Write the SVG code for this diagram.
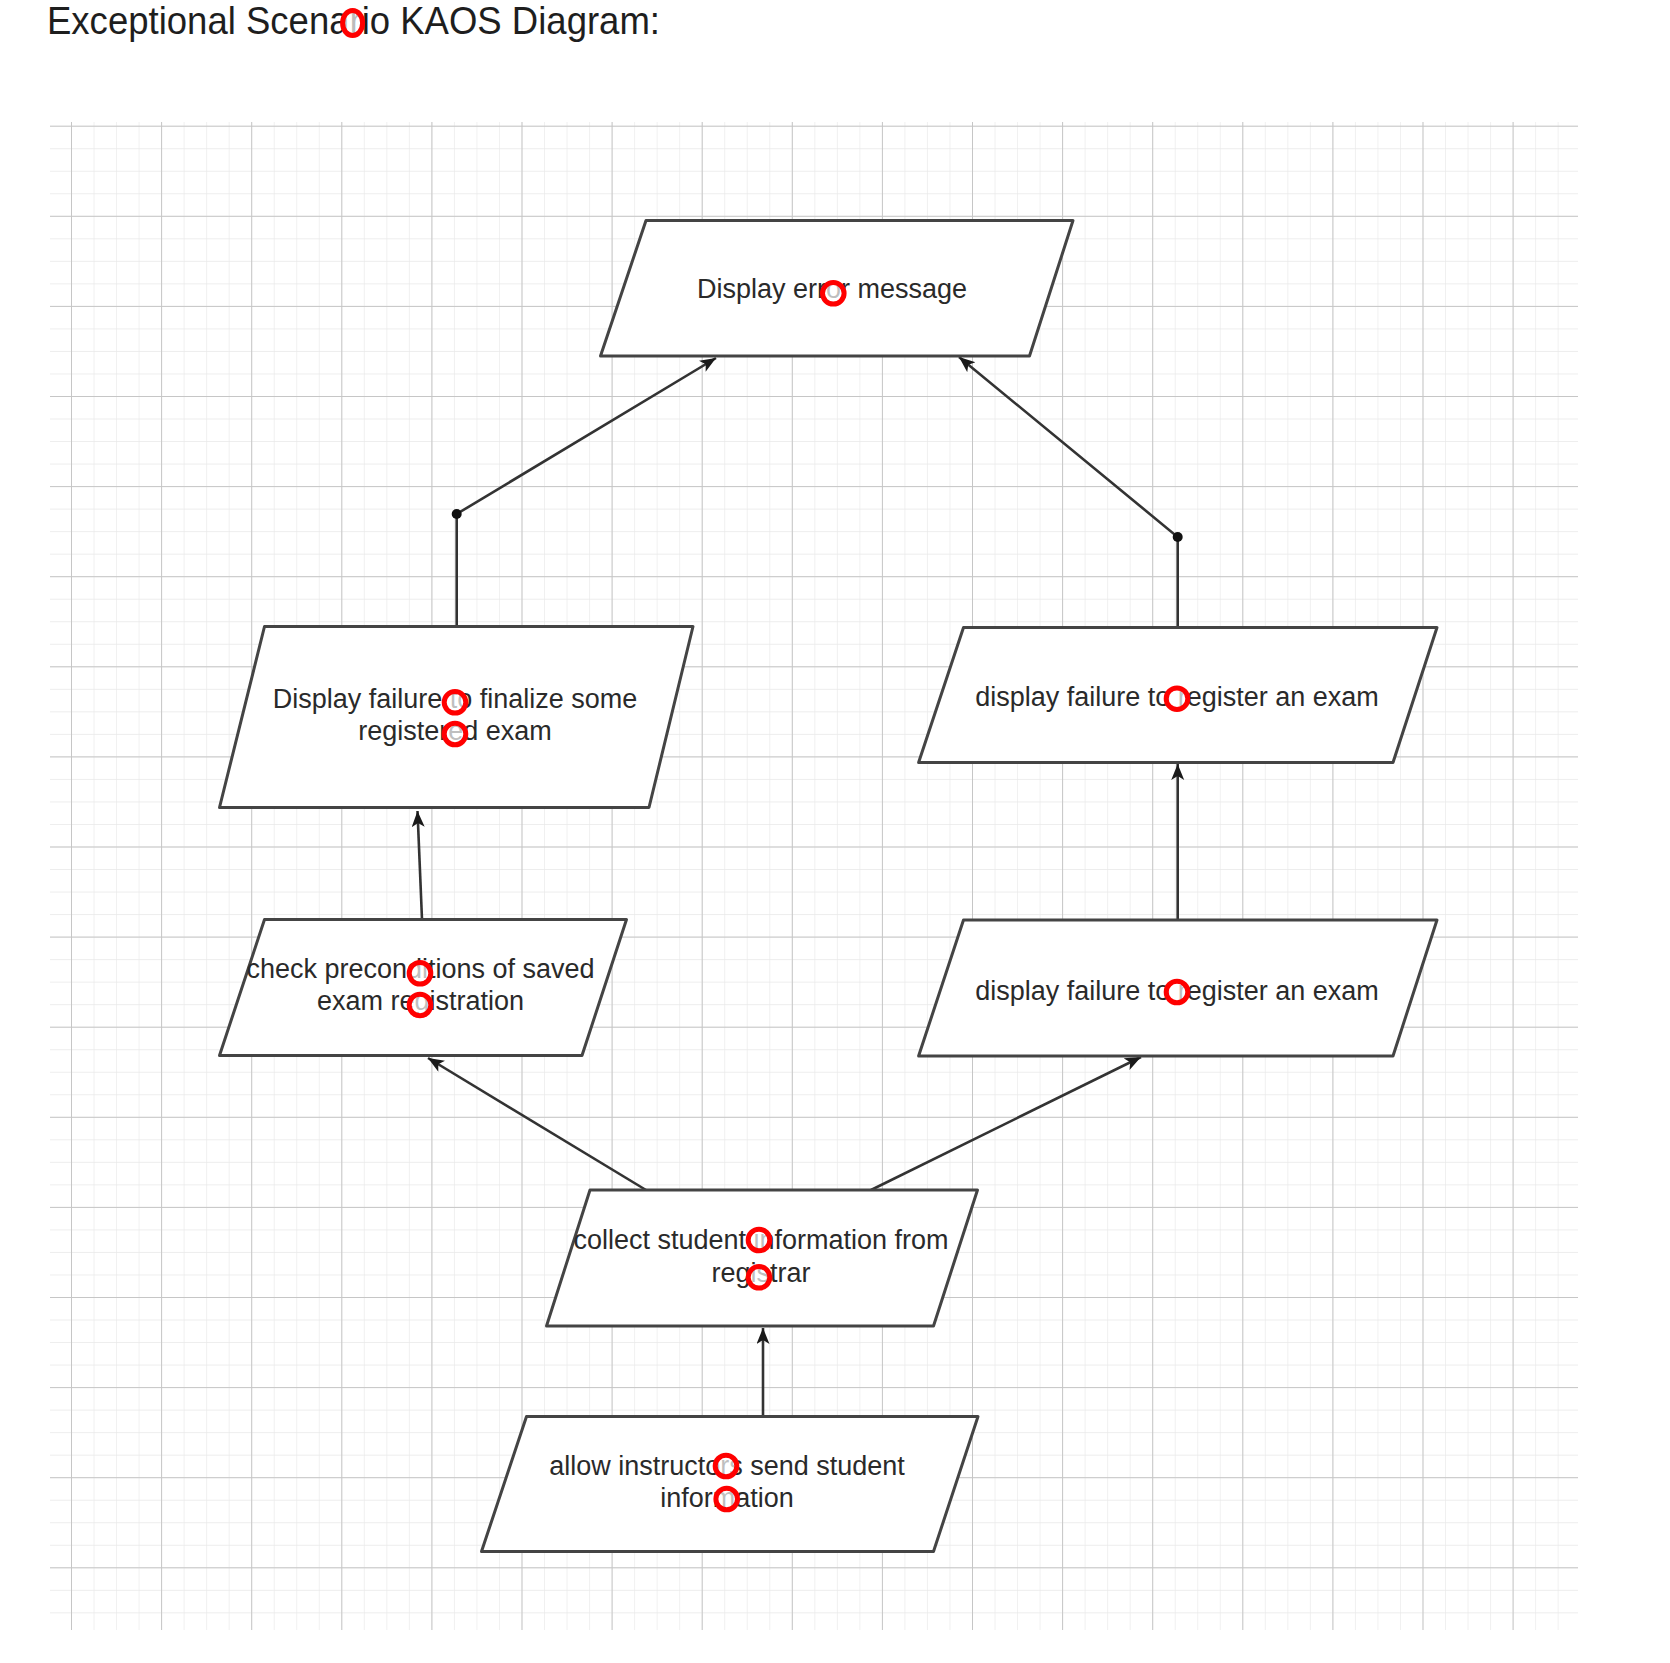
<svg xmlns="http://www.w3.org/2000/svg" width="1670" height="1663" viewBox="0 0 1670 1663">
  <defs>
    <pattern id="minor" patternUnits="userSpaceOnUse" x="71" y="125.7" width="22.525" height="22.525">
      <path d="M0,0 H22.525 M0,0 V22.525" fill="none" stroke="#e8e8e8" stroke-width="1.3"/>
    </pattern>
    <pattern id="major" patternUnits="userSpaceOnUse" x="71" y="125.7" width="90.1" height="90.1">
      <path d="M0,0 H90.1 M0,0 V90.1" fill="none" stroke="#c6c6c6" stroke-width="2"/>
    </pattern>
    <marker id="arrow" markerUnits="userSpaceOnUse" markerWidth="18" markerHeight="14" refX="16" refY="6.5" orient="auto">
      <path d="M0,0 L16,6.5 L0,13 L4,6.5 Z" fill="#1a1a1a"/>
    </marker>
    <style>
      .node { fill: #ffffff; stroke: #444444; stroke-width: 3; stroke-linejoin: round; }
      .label { font-family: "Liberation Sans", Arial, Helvetica, sans-serif; font-size: 27px; fill: #2a2a2a; text-anchor: middle; }
      .edge { fill: none; stroke: #333333; stroke-width: 2.6; }
      .dot { fill: #111111; }
      .mark { fill: #ffffff; fill-opacity: 0.7; stroke: #ff0000; stroke-width: 5; }
    </style>
  </defs>

  <rect x="0" y="0" width="1670" height="1663" fill="#ffffff"/>

  <text x="47" y="34" font-family="'Liberation Sans', Arial, Helvetica, sans-serif" font-size="39" fill="#1e1e1e" textLength="613" lengthAdjust="spacingAndGlyphs">Exceptional Scenario KAOS Diagram:</text>

  <g id="grid">
    <rect x="50" y="122" width="1528" height="1508" fill="url(#minor)"/>
    <rect x="50" y="122" width="1528" height="1508" fill="url(#major)"/>
  </g>

  <g id="connectors">
    <path class="edge" d="M456.7,626.5 V514 L716,358" marker-end="url(#arrow)"/>
    <circle class="dot" cx="456.7" cy="514" r="5"/>
    <path class="edge" d="M1177.7,627.5 V537 L959,357" marker-end="url(#arrow)"/>
    <circle class="dot" cx="1177.7" cy="537" r="5"/>
    <path class="edge" d="M1177.7,920 L1177.7,764" marker-end="url(#arrow)"/>
    <path class="edge" d="M422,919.5 L417.5,811" marker-end="url(#arrow)"/>
    <path class="edge" d="M646,1190 L428,1058" marker-end="url(#arrow)"/>
    <path class="edge" d="M871,1190 L1141,1057" marker-end="url(#arrow)"/>
    <path class="edge" d="M763,1416.5 L763,1328" marker-end="url(#arrow)"/>
  </g>

  <g id="node-display-error">
    <polygon class="node" points="646,220.5 1073,220.5 1029.5,356 600.5,356"/>
    <text class="label" x="832" y="298">Display error message</text>
  </g>
  <g id="node-failure-finalize">
    <polygon class="node" points="264.5,626.5 693,626.5 649,807.5 219.5,807.5"/>
    <text class="label" x="455" y="708">Display failure to finalize some</text>
    <text class="label" x="455" y="740">registered exam</text>
  </g>
  <g id="node-failure-register-1">
    <polygon class="node" points="963.5,627.5 1437,627.5 1393,762.5 918.6,762.5"/>
    <text class="label" x="1177" y="706">display failure to register an exam</text>
  </g>
  <g id="node-failure-register-2">
    <polygon class="node" points="963.5,920 1437,920 1393,1056 918.6,1056"/>
    <text class="label" x="1177" y="1000">display failure to register an exam</text>
  </g>
  <g id="node-check-preconditions">
    <polygon class="node" points="264.5,919.5 626.5,919.5 582,1055.5 219.5,1055.5"/>
    <text class="label" x="420.5" y="978">check preconditions of saved</text>
    <text class="label" x="420.5" y="1010">exam registration</text>
  </g>
  <g id="node-collect-info">
    <polygon class="node" points="590,1190 977.5,1190 933.5,1326 546.5,1326"/>
    <text class="label" x="761" y="1249">collect student information from</text>
    <text class="label" x="761" y="1281.5">registrar</text>
  </g>
  <g id="node-allow-instructors">
    <polygon class="node" points="526.5,1416.5 978,1416.5 933.5,1551.5 481.5,1551.5"/>
    <text class="label" x="727" y="1475">allow instructors send student</text>
    <text class="label" x="727" y="1507">information</text>
  </g>

  <g id="markers">
    <ellipse class="mark" cx="352.6" cy="23" rx="10" ry="12.5"/>
    <circle class="mark" cx="833.3" cy="293.3" r="10.8"/>
    <circle class="mark" cx="455" cy="702.3" r="10.8"/>
    <circle class="mark" cx="455" cy="734" r="10.8"/>
    <circle class="mark" cx="1177" cy="698.7" r="10.8"/>
    <circle class="mark" cx="1177" cy="992" r="10.8"/>
    <circle class="mark" cx="420" cy="973.3" r="10.8"/>
    <circle class="mark" cx="420" cy="1005" r="10.8"/>
    <circle class="mark" cx="759" cy="1240" r="10.8"/>
    <circle class="mark" cx="759" cy="1277.3" r="10.8"/>
    <circle class="mark" cx="726" cy="1466" r="10.8"/>
    <circle class="mark" cx="726.7" cy="1499" r="10.8"/>
  </g>
</svg>
